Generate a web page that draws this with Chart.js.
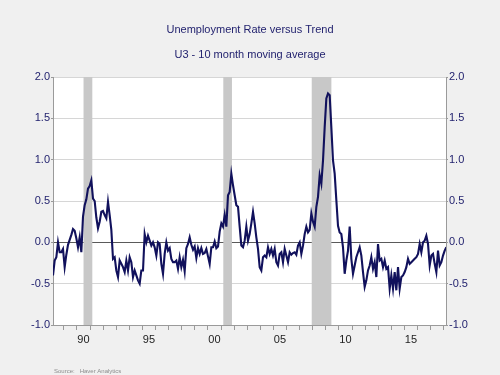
<!DOCTYPE html>
<html>
<head>
<meta charset="utf-8">
<script src="https://cdn.jsdelivr.net/npm/chart.js@4.4.0/dist/chart.umd.min.js"></script>
<style>
  html, body { margin: 0; padding: 0; background: #f0f0f0; }
  #wrap { width: 500px; height: 375px; }
</style>
</head>
<body>
<div id="wrap"><canvas id="chart" width="500" height="375"></canvas></div>
<script>
// U3 minus its 10 month moving average
const firstDate = 1988.17;
const dateStep = 0.12723;
const values = [
  -0.40, -0.22, -0.18, 0.00, -0.12, -0.12, -0.08, -0.30, -0.15, -0.03,
  0.03, 0.09, 0.16, 0.14, 0.05, -0.06, 0.06, -0.12, 0.31, 0.45,
  0.52, 0.65, 0.68, 0.75, 0.53, 0.50, 0.30, 0.17, 0.25, 0.37,
  0.38, 0.33, 0.29, 0.49, 0.33, 0.15, -0.20, -0.18, -0.34, -0.42,
  -0.22, -0.26, -0.30, -0.36, -0.22, -0.34, -0.18, -0.24, -0.42, -0.34,
  -0.40, -0.46, -0.50, -0.34, -0.34, 0.10, 0.00, 0.08, 0.02, -0.04,
  0.00, -0.06, -0.16, 0.00, -0.02, -0.26, -0.38, -0.14, 0.00, -0.10,
  -0.07, -0.20, -0.24, -0.24, -0.22, -0.32, -0.18, -0.30, -0.21, -0.35,
  -0.07, -0.02, 0.06, -0.03, -0.09, -0.05, -0.19, -0.07, -0.14, -0.07,
  -0.14, -0.13, -0.08, -0.17, -0.26, -0.06, -0.06, 0.01, -0.07, -0.05,
  0.13, 0.23, 0.19, 0.33, 0.19, 0.57, 0.61, 0.83, 0.69, 0.57,
  0.45, 0.43, 0.19, -0.04, -0.06, 0.02, 0.19, 0.02, 0.10, 0.23,
  0.37, 0.23, 0.06, -0.08, -0.30, -0.34, -0.18, -0.16, -0.18, -0.06,
  -0.14, -0.08, -0.16, -0.08, -0.24, -0.28, -0.14, -0.12, -0.24, -0.08,
  -0.16, -0.24, -0.12, -0.15, -0.13, -0.12, -0.15, -0.04, 0.00, -0.14,
  -0.04, 0.10, 0.19, 0.12, 0.15, 0.35, 0.25, 0.19, 0.43, 0.55,
  0.81, 0.71, 0.99, 1.39, 1.74, 1.80, 1.78, 1.39, 0.99, 0.83,
  0.51, 0.20, 0.12, 0.10, -0.06, -0.38, -0.22, -0.10, 0.19, -0.20,
  -0.38, -0.28, -0.18, -0.12, -0.06, -0.16, -0.36, -0.54, -0.46, -0.34,
  -0.28, -0.18, -0.32, -0.24, -0.42, -0.02, -0.22, -0.20, -0.30, -0.22,
  -0.32, -0.30, -0.56, -0.40, -0.56, -0.36, -0.58, -0.30, -0.56, -0.42,
  -0.40, -0.36, -0.30, -0.20, -0.26, -0.24, -0.22, -0.20, -0.18, -0.14,
  -0.02, -0.12, 0.00, 0.02, 0.08, -0.02, -0.28, -0.16, -0.14, -0.26,
  -0.36, -0.10, -0.28, -0.24, -0.16, -0.10, -0.06
];
const dates = values.map((v, i) => firstDate + i * dateStep);

const recessionStarts = [1990.5, 2001.17, 2007.92];
const recessionEnds = [1991.17, 2001.83, 2009.42];
const tickYears = [1989, 1990, 1991, 1992, 1993, 1994, 1995, 1996, 1997, 1998, 1999, 2000,
  2001, 2002, 2003, 2004, 2005, 2006, 2007, 2008, 2009, 2010, 2011, 2012, 2013, 2014,
  2015, 2016, 2017, 2018];
const labelYears = [1990, 1995, 2000, 2005, 2010, 2015];

const font = 'Liberation Sans, Arial, sans-serif';
const navy = '#23236f';

const backdrop = {
  id: 'backdrop',
  beforeDraw(chart) {
    const { ctx, chartArea: a } = chart;
    ctx.save();
    ctx.fillStyle = '#ffffff';
    ctx.fillRect(a.left, a.top, a.right - a.left, a.bottom - a.top);
    ctx.restore();
  },
  beforeDatasetsDraw(chart) {
    const { ctx, chartArea: a, scales } = chart;
    ctx.save();
    ctx.fillStyle = '#c8c8c8';
    recessionStarts.forEach((s, i) => {
      const x0 = scales.x.getPixelForValue(s);
      const x1 = scales.x.getPixelForValue(recessionEnds[i]);
      ctx.fillRect(x0, a.top, x1 - x0, a.bottom - a.top);
    });
    ctx.restore();
  },
  afterDraw(chart) {
    const { ctx } = chart;
    ctx.save();
    ctx.font = '6px ' + font;
    ctx.fillStyle = '#8c8c8c';
    ctx.textBaseline = 'middle';
    ctx.fillText('Source:   Haver Analytics', 54, 371);
    ctx.restore();
  }
};

const yAxis = (pos) => ({
  position: pos,
  min: -1,
  max: 2,
  afterBuildTicks: s => { s.ticks = [-1, -0.5, 0, 0.5, 1, 1.5, 2].map(v => ({ value: v })); },
  afterFit: s => { s.width = pos === 'left' ? 53 : 54; },
  ticks: {
    color: navy,
    font: { family: font, size: 11 },
    padding: 1,
    callback: v => v.toFixed(1)
  },
  grid: {
    drawOnChartArea: pos === 'left',
    color: c => c.tick && c.tick.value === 0 ? '#5a5a5a' : '#d6d6d6',
    tickColor: '#9a9a9a',
    tickLength: 2
  },
  border: { color: '#9a9a9a' }
});

new Chart(document.getElementById('chart'), {
  type: 'line',
  data: {
    datasets: [{
      data: dates.map((d, i) => ({ x: d, y: values[i] })),
      borderColor: '#11115c',
      borderWidth: 2.1,
      pointRadius: 0,
      tension: 0
    }]
  },
  options: {
    responsive: false,
    animation: false,
    layout: { padding: 0 },
    plugins: {
      legend: { display: false },
      tooltip: { enabled: false },
      title: {
        display: true,
        text: 'Unemployment Rate versus Trend',
        color: navy,
        font: { family: font, size: 11, weight: 'normal' },
        padding: { top: 23.4, bottom: 11.8 }
      },
      subtitle: {
        display: true,
        text: 'U3 - 10 month moving average',
        color: navy,
        font: { family: font, size: 11, weight: 'normal' },
        padding: { top: 0, bottom: 15.4 }
      }
    },
    scales: {
      x: {
        type: 'linear',
        min: 1988.17,
        max: 2018.17,
        afterBuildTicks: s => { s.ticks = tickYears.map(v => ({ value: v })); },
        afterFit: s => { s.height = 50; },
        ticks: {
          autoSkip: false,
          maxRotation: 0,
          color: '#222222',
          font: { family: font, size: 11 },
          padding: 3,
          labelOffset: 6.5,
          callback: v => labelYears.includes(v) ? String(v).slice(2) : ''
        },
        grid: {
          drawOnChartArea: false,
          tickColor: '#9a9a9a',
          tickLength: 5
        },
        border: { color: '#9a9a9a' }
      },
      y: yAxis('left'),
      y2: yAxis('right')
    }
  },
  plugins: [backdrop]
});
</script>
</body>
</html>
